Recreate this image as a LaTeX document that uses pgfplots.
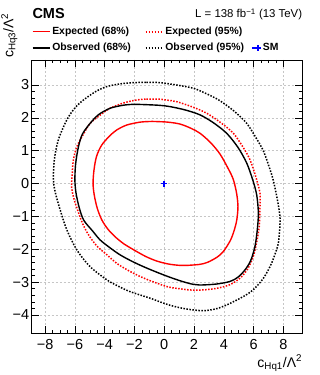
\documentclass[border=0pt]{standalone}
\usepackage{fontspec}
\setmainfont{Liberation Sans}
\usepackage{pgfplots}
\pgfplotsset{compat=1.18}
\pgfplotsset{smlegend/.style={legend image code/.code={\draw[##1] plot coordinates {(6pt,0pt)}; \path (0pt,0pt) -- (8pt,0pt);}},
  dotlegend/.style={legend image code/.code={\path (-7pt,0pt); \draw[##1] (0pt,0pt) -- (17pt,0pt);}}}
\begin{document}
\begin{tikzpicture}[x=1pt,y=1pt]
\path[use as bounding box] (-31.7,-42) rectangle (287.3,333);
\begin{axis}[
  at={(0,0)}, anchor=south west, scale only axis,
  width=270.6pt, height=273pt,
  xmin=-8.9, xmax=9.27, ymin=-4.55, ymax=3.76,
  xtick={-8,-6,...,8}, xticklabels={−8,−6,−4,−2,0,2,4,6,8},
  ytick={-4,-3,...,3}, yticklabels={−4,−3,−2,−1,0,1,2,3},
  minor x tick num=3, minor y tick num=4,
  tick align=inside, xtick pos=both, ytick pos=both,
  major tick length=7pt, minor tick length=3.5pt,
  tick style={black, line width=0.5pt},
  axis line style={line width=0.6pt},
  grid=major, major grid style={gray!45, line width=0.4pt, dash pattern=on 2pt off 2pt},
  tick label style={font=\fontsize{14.5}{14.5}\selectfont},
  xticklabel style={yshift=-3pt},
  yticklabel style={xshift=1pt},
  legend columns=3,
  legend cell align=left,
  legend image code/.code={\draw[#1] (0pt,0pt) -- (17pt,0pt);},
  legend style={draw=none, fill=none, at={(axis description cs:0.0,1.128)}, anchor=north west,
    font=\fontsize{10.4}{12}\selectfont\bfseries, inner sep=0pt, row sep=3pt,
    /tikz/every even column/.append style={column sep=5pt}},
]
\addplot[red, line width=1.4pt, smooth] coordinates {
(-0.8,1.89) (0.2,1.87) (1.06,1.81) (1.8,1.68) (2.4,1.53) (3.1,1.25) (3.74,0.9) (4.3,0.45) (4.64,0.12) (4.86,-0.3) (4.95,-0.7) (4.87,-1.11) (4.68,-1.45) (4.42,-1.75) (3.95,-2.08) (3.52,-2.25) (2.9,-2.4) (2.4,-2.46) (1.6,-2.49) (1.0,-2.49) (0.28,-2.45) (-0.5,-2.36) (-1.2,-2.23) (-1.85,-2.07) (-2.7,-1.84) (-3.3,-1.62) (-3.8,-1.38) (-4.2,-1.1) (-4.5,-0.75) (-4.7,-0.35) (-4.78,0.0) (-4.72,0.4) (-4.55,0.82) (-4.2,1.17) (-3.64,1.46) (-3.19,1.63) (-2.52,1.78) (-1.6,1.87) (-0.8,1.89)
};
\addlegendentry{Expected (68\%)}
\addplot[red, line width=1.5pt, dash pattern=on 1.5pt off 1.5pt, smooth, dotlegend] coordinates {
(-1.2,2.57) (-0.4,2.57) (0.17,2.54) (0.84,2.49) (1.9,2.33) (2.85,2.14) (3.8,1.85) (4.64,1.53) (5.3,1.1) (5.76,0.72) (6.15,0.2) (6.43,-0.3) (6.42,-0.8) (6.38,-1.31) (6.2,-1.8) (5.98,-2.22) (5.6,-2.6) (5.09,-2.88) (4.4,-3.08) (3.52,-3.19) (2.6,-3.24) (1.73,-3.24) (1.0,-3.2) (0.28,-3.15) (-0.7,-3.0) (-1.62,-2.83) (-2.4,-2.65) (-3.19,-2.43) (-3.9,-2.15) (-4.53,-1.9) (-5.1,-1.55) (-5.5,-1.2) (-5.9,-0.7) (-6.1,-0.4) (-6.22,-0.1) (-6.18,0.3) (-6.10,0.72) (-5.87,1.12) (-5.43,1.5) (-4.98,1.83) (-4.31,2.08) (-3.64,2.29) (-2.74,2.45) (-1.9,2.54) (-1.2,2.57)
};
\addlegendentry{Expected (95\%)}
\addlegendimage{empty legend}
\addlegendentry{}
\addplot[black, line width=1.4pt, smooth] coordinates {
(-1.2,2.4) (-0.3,2.38) (0.4,2.34) (1.4,2.24) (2.4,2.09) (3.3,1.85) (4.19,1.53) (4.95,1.1) (5.54,0.62) (5.95,0.1) (6.21,-0.35) (6.32,-0.9) (6.25,-1.4) (6.09,-1.92) (5.8,-2.35) (5.42,-2.63) (4.95,-2.85) (4.42,-2.98) (3.5,-3.06) (2.4,-3.09) (1.95,-3.07) (1.2,-2.98) (0.3,-2.84) (-0.5,-2.7) (-1.4,-2.53) (-2.2,-2.36) (-2.97,-2.17) (-3.6,-1.97) (-4.3,-1.72) (-4.8,-1.45) (-5.4,-1.12) (-5.7,-0.75) (-5.92,-0.3) (-6.0,0.1) (-5.95,0.6) (-5.76,1.12) (-5.5,1.5) (-4.98,1.83) (-4.4,2.1) (-3.64,2.29) (-2.8,2.38) (-2.07,2.41) (-1.2,2.4)
};
\addlegendentry{Observed (68\%)}
\addplot[black, line width=1.5pt, dash pattern=on 1.5pt off 1.5pt, smooth, dotlegend] coordinates {
(-1.2,3.08) (-0.28,3.07) (0.8,3.0) (1.95,2.9) (2.9,2.72) (3.74,2.52) (4.7,2.2) (5.54,1.83) (6.15,1.4) (6.65,1.0) (7.05,0.5) (7.32,0.1) (7.6,-0.5) (7.77,-1.01) (7.75,-1.4) (7.66,-1.82) (7.4,-2.2) (7.10,-2.53) (6.6,-2.92) (5.8,-3.3) (4.64,-3.6) (3.6,-3.8) (2.62,-3.87) (1.5,-3.82) (0.5,-3.72) (-0.3,-3.6) (-0.95,-3.49) (-2.3,-3.29) (-3.2,-3.1) (-3.86,-2.93) (-4.98,-2.53) (-5.87,-2.02) (-6.54,-1.41) (-6.99,-0.8) (-7.3,-0.3) (-7.44,0.1) (-7.38,0.72) (-7.11,1.33) (-6.54,1.94) (-6.0,2.3) (-5.43,2.54) (-4.6,2.8) (-3.86,2.95) (-3.0,3.03) (-2.07,3.07) (-1.2,3.08)
};
\addlegendentry{Observed (95\%)}
\addplot[blue, only marks, mark=+, mark size=3pt, line width=1.6pt, smlegend] coordinates {(0,0)};
\addlegendentry{SM}
\end{axis}
\node[anchor=base west, font=\fontsize{14.5}{14}\selectfont\bfseries, inner sep=0pt] at (0.6,314.7) {CMS};
\node[anchor=base east, font=\fontsize{11.4}{11}\selectfont, inner sep=0pt] at (270.6,315) {L = 138 fb\textsuperscript{−1} (13 TeV)};
\node[anchor=base east, font=\fontsize{14}{14}\selectfont, inner sep=0pt] at (270.6,-34) {c\textsubscript{Hq1}/Λ\textsuperscript{2}};
\node[anchor=base east, rotate=90, font=\fontsize{14}{14}\selectfont, inner sep=0pt] at (-18.4,320) {c\textsubscript{Hq3}/Λ\textsuperscript{2}};
\end{tikzpicture}
\end{document}
